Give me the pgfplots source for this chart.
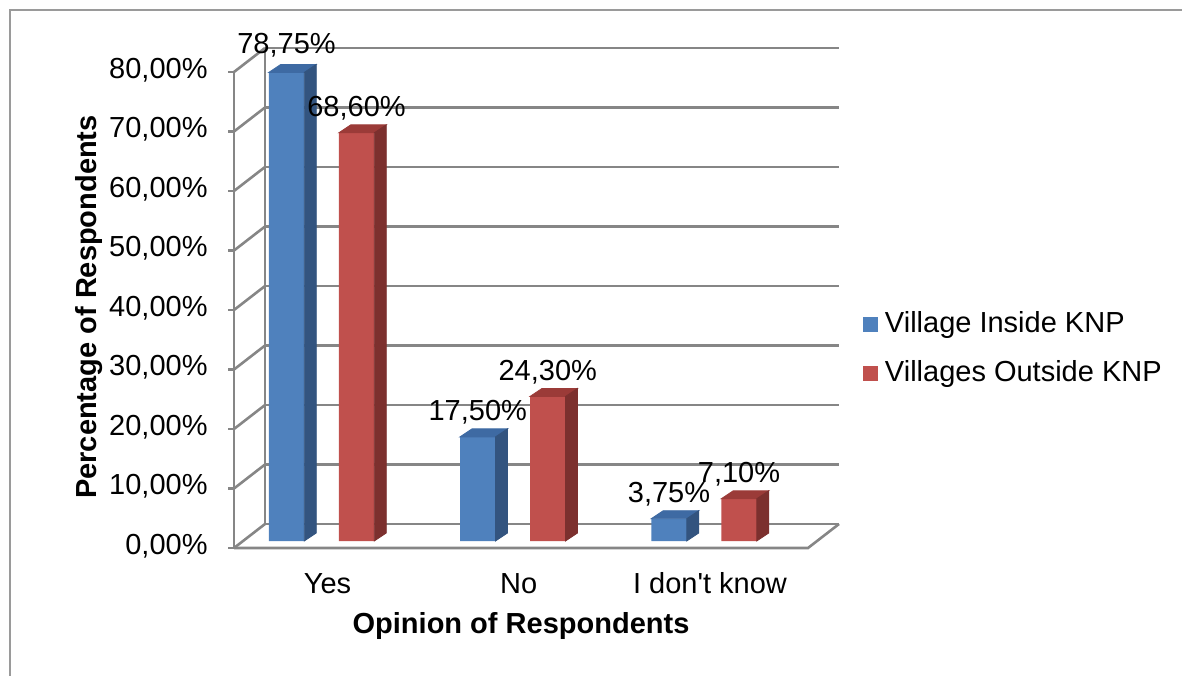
\documentclass[border=0pt]{standalone}
\usepackage{pgfplots}
\pgfplotsset{compat=1.18}
\usepackage{pgfplotstable}
\usepackage{fontspec}
\setmainfont{Liberation Sans}

\definecolor{blueF}{HTML}{4F81BD}
\definecolor{blueS}{HTML}{33547F}
\definecolor{blueT}{HTML}{3E6AA3}
\definecolor{redF}{HTML}{C0504D}
\definecolor{redS}{HTML}{7C302E}
\definecolor{redT}{HTML}{9B3B38}
\definecolor{gridc}{HTML}{868686}
\definecolor{framec}{HTML}{9A9A9A}

\def\PX{0.5pt}
\def\xa{-0.4575}
\def\xb{2.5438}
\pgfdeclareplotmark{blank}{}

\pgfplotstableread{
x v ly
-0.183 78.75 19
0.817 17.50 16
1.817 3.75 16
}\inside
\pgfplotstableread{
x v ly
0.183 68.60 16
1.183 24.30 16
2.183 7.10 16
}\outside

\pgfplotsset{
  cube/.style n args={2}{scatter, only marks, mark=blank, forget plot,
    visualization depends on={\thisrow{v} \as \vv},
    scatter/@pre marker code/.code={%
      \pgfmathsetmacro\hh{\vv*5.95*0.5}%
      \fill[#2] (-17.75*\PX,0pt) -- (17.75*\PX,0pt) -- (29.75*\PX,8*\PX) -- (-5.75*\PX,8*\PX) -- cycle;
      \fill[#1] (17.75*\PX,0pt) -- (29.75*\PX,8*\PX) -- (29.75*\PX,8*\PX-\hh pt) -- (17.75*\PX,-\hh pt) -- cycle;
    },
    scatter/@post marker code/.code={},
  },
  front/.style={ybar, bar width=17.75pt, bar shift=0pt, draw=none,
    point meta=explicit,
    visualization depends on={\thisrow{ly} \as \ly},
    nodes near coords={\pgfmathprintnumber[fixed,fixed zerofill,precision=2,use comma]{\pgfplotspointmeta}\%},
    nodes near coords style={anchor=base, inner sep=0pt, yshift=\ly*\PX, text=black},
  },
}

\begin{document}
\fontsize{14.5}{17.4}\selectfont
\begin{tikzpicture}
\begin{axis}[
  set layers,
  x=95.625pt, y=2.975pt,
  xmin=\xa, xmax=\xb, ymin=0, ymax=85,
  clip=false,
  axis lines*=left,
  axis line style={draw=none},
  tick style={draw=none},
  /pgf/number format/assume math mode=true,
  xtick={0,1,2},
  xticklabels={Yes,No,I don\textquotesingle{}t know},
  xticklabel style={anchor=base, inner sep=0pt, yshift=-52*\PX, xshift=6*\PX},
  ytick={0,10,20,30,40,50,60,70,80},
  yticklabel={\pgfmathprintnumber[fixed,fixed zerofill,precision=2,use comma]{\tick}\%},
  yticklabel style={anchor=east, inner sep=0pt, xshift=-26*\PX, yshift=-5*\PX},
  xlabel={Opinion of Respondents},
  xlabel style={at={(axis description cs:0.5,-0.1819)}, anchor=base, font=\bfseries, inner sep=0pt},
  ylabel={Percentage of Respondents},
  ylabel style={at={(axis description cs:-0.2387,0.4627)}, anchor=base, rotate=0, font=\bfseries, inner sep=0pt},
  legend style={at={(axis description cs:1.0958,0.3796)}, anchor=west, draw=none, fill=none,
    inner sep=0pt, outer sep=0pt, nodes={inner sep=0pt, outer sep=0pt},
    row sep=11.85pt, column sep=3.5pt},
  legend cell align=left,
]
\begin{pgfonlayer}{axis background}
\pgfplotsinvokeforeach{0,10,20,30,40,50,60,70,80}{%
  \draw[gridc, line width=1.3pt] ([xshift=31*\PX,yshift=17*\PX]axis cs:\xa,#1) -- ([xshift=31*\PX,yshift=17*\PX]axis cs:\xb,#1);
  \draw[gridc, line width=1.3pt] ([yshift=-7*\PX]axis cs:\xa,#1) -- ([xshift=31*\PX,yshift=17*\PX]axis cs:\xa,#1);
  \draw[gridc, line width=1.3pt] ([yshift=-7*\PX]axis cs:\xa,#1) -- ([xshift=-6*\PX,yshift=-7*\PX]axis cs:\xa,#1);
}
\draw[gridc, line width=1.3pt] ([xshift=31*\PX,yshift=17*\PX]axis cs:\xa,0) -- ([xshift=31*\PX,yshift=17*\PX]axis cs:\xa,80);
\draw[gridc, line width=1.3pt] ([yshift=-7*\PX]axis cs:\xa,0) -- ([yshift=-7*\PX]axis cs:\xa,80);
\draw[gridc, line width=1.3pt] ([yshift=-7*\PX]axis cs:\xa,0) -- ([yshift=-7*\PX]axis cs:\xb,0) -- ([xshift=31*\PX,yshift=17*\PX]axis cs:\xb,0);
\end{pgfonlayer}

\addplot[cube={blueS}{blueT}] table[x=x,y=v]{\inside};
\addplot[cube={redS}{redT}] table[x=x,y=v]{\outside};

\addplot[front, fill=blueF,
  legend image code/.code={\fill[blueF] (0pt,-3.75pt) rectangle (7.5pt,3.75pt);}]
  table[x=x,y=v,meta=v]{\inside};
\addlegendentry{Village Inside KNP}
\addplot[front, fill=redF,
  legend image code/.code={\fill[redF] (0pt,-3.75pt) rectangle (7.5pt,3.75pt);}]
  table[x=x,y=v,meta=v]{\outside};
\addlegendentry{Villages Outside KNP}

\coordinate (TL) at ([xshift=-321.5*\PX, yshift=541*\PX]axis cs:0,0);
\end{axis}
\useasboundingbox (TL) rectangle ([xshift=1182*\PX, yshift=-675*\PX]TL);
\draw[framec, line width=1pt] ([xshift=10*\PX, yshift=-700*\PX]TL) -- ([xshift=10*\PX, yshift=-10*\PX]TL) -- ([xshift=1200*\PX, yshift=-10*\PX]TL);
\end{tikzpicture}
\end{document}
